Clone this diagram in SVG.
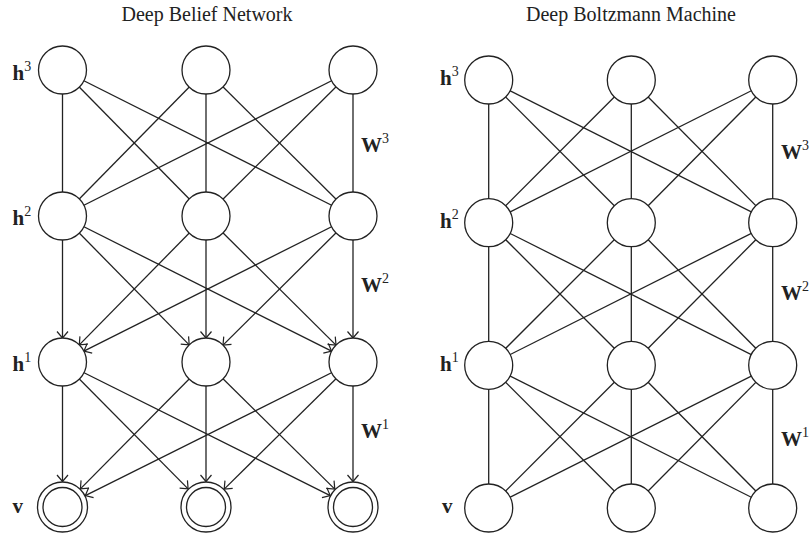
<svg xmlns="http://www.w3.org/2000/svg" width="812" height="535" viewBox="0 0 812 535">
<style>
.e{stroke:#222;stroke-width:1.3;fill:none}
.a{stroke:#222;stroke-width:1.3;fill:none;marker-end:url(#arr)}
.n{fill:#fff;stroke:#222;stroke-width:1.3}
.t{font-family:"Liberation Serif",serif;font-size:20px;fill:#222;text-anchor:middle}
.l{font-family:"Liberation Serif",serif;font-weight:bold;font-size:21px;fill:#222}
.s{font-size:14px;font-weight:normal}
</style>
<defs>
<marker id="arr" markerUnits="userSpaceOnUse" markerWidth="14" markerHeight="14" refX="12" refY="7" orient="auto" overflow="visible">
<path d="M5.5,1.5 L12,7 L5.5,12.5" fill="none" stroke="#222" stroke-width="1.2"/>
</marker>
</defs>
<rect width="812" height="535" fill="#fff"/>
<text class="t" x="207" y="21">Deep Belief Network</text>
<text class="t" x="631" y="21">Deep Boltzmann Machine</text>
<g id="connectors">
<line class="e" x1="62.5" y1="70" x2="62.5" y2="216"/>
<line class="e" x1="62.5" y1="70" x2="206" y2="216"/>
<line class="e" x1="62.5" y1="70" x2="353" y2="216"/>
<line class="e" x1="206" y1="70" x2="62.5" y2="216"/>
<line class="e" x1="206" y1="70" x2="206" y2="216"/>
<line class="e" x1="206" y1="70" x2="353" y2="216"/>
<line class="e" x1="353" y1="70" x2="62.5" y2="216"/>
<line class="e" x1="353" y1="70" x2="206" y2="216"/>
<line class="e" x1="353" y1="70" x2="353" y2="216"/>
<line class="a" x1="62.5" y1="216" x2="62.5" y2="338"/>
<line class="a" x1="62.5" y1="216" x2="189.2" y2="344.9"/>
<line class="a" x1="62.5" y1="216" x2="331.6" y2="351.2"/>
<line class="a" x1="206" y1="216" x2="79.3" y2="344.9"/>
<line class="a" x1="206" y1="216" x2="206" y2="338"/>
<line class="a" x1="206" y1="216" x2="336" y2="345.1"/>
<line class="a" x1="353" y1="216" x2="83.9" y2="351.2"/>
<line class="a" x1="353" y1="216" x2="223" y2="345.1"/>
<line class="a" x1="353" y1="216" x2="353" y2="338"/>
<line class="a" x1="62.5" y1="362" x2="62.5" y2="481.5"/>
<line class="a" x1="62.5" y1="362" x2="188.1" y2="488.9"/>
<line class="a" x1="62.5" y1="362" x2="330.2" y2="495.6"/>
<line class="a" x1="206" y1="362" x2="80.4" y2="488.9"/>
<line class="a" x1="206" y1="362" x2="206" y2="481.5"/>
<line class="a" x1="206" y1="362" x2="334.8" y2="489.1"/>
<line class="a" x1="353" y1="362" x2="85.3" y2="495.6"/>
<line class="a" x1="353" y1="362" x2="224.2" y2="489.1"/>
<line class="a" x1="353" y1="362" x2="353" y2="481.5"/>
<line class="e" x1="488.7" y1="80" x2="488.7" y2="222.7"/>
<line class="e" x1="488.7" y1="80" x2="631.3" y2="222.7"/>
<line class="e" x1="488.7" y1="80" x2="772.7" y2="222.7"/>
<line class="e" x1="631.3" y1="80" x2="488.7" y2="222.7"/>
<line class="e" x1="631.3" y1="80" x2="631.3" y2="222.7"/>
<line class="e" x1="631.3" y1="80" x2="772.7" y2="222.7"/>
<line class="e" x1="772.7" y1="80" x2="488.7" y2="222.7"/>
<line class="e" x1="772.7" y1="80" x2="631.3" y2="222.7"/>
<line class="e" x1="772.7" y1="80" x2="772.7" y2="222.7"/>
<line class="e" x1="488.7" y1="222.7" x2="488.7" y2="365.3"/>
<line class="e" x1="488.7" y1="222.7" x2="631.3" y2="365.3"/>
<line class="e" x1="488.7" y1="222.7" x2="772.7" y2="365.3"/>
<line class="e" x1="631.3" y1="222.7" x2="488.7" y2="365.3"/>
<line class="e" x1="631.3" y1="222.7" x2="631.3" y2="365.3"/>
<line class="e" x1="631.3" y1="222.7" x2="772.7" y2="365.3"/>
<line class="e" x1="772.7" y1="222.7" x2="488.7" y2="365.3"/>
<line class="e" x1="772.7" y1="222.7" x2="631.3" y2="365.3"/>
<line class="e" x1="772.7" y1="222.7" x2="772.7" y2="365.3"/>
<line class="e" x1="488.7" y1="365.3" x2="488.7" y2="508"/>
<line class="e" x1="488.7" y1="365.3" x2="631.3" y2="508"/>
<line class="e" x1="488.7" y1="365.3" x2="772.7" y2="508"/>
<line class="e" x1="631.3" y1="365.3" x2="488.7" y2="508"/>
<line class="e" x1="631.3" y1="365.3" x2="631.3" y2="508"/>
<line class="e" x1="631.3" y1="365.3" x2="772.7" y2="508"/>
<line class="e" x1="772.7" y1="365.3" x2="488.7" y2="508"/>
<line class="e" x1="772.7" y1="365.3" x2="631.3" y2="508"/>
<line class="e" x1="772.7" y1="365.3" x2="772.7" y2="508"/>
</g>
<g id="dbn-h3-1"><circle class="n" cx="62.5" cy="70" r="24"/></g>
<g id="dbn-h3-2"><circle class="n" cx="206" cy="70" r="24"/></g>
<g id="dbn-h3-3"><circle class="n" cx="353" cy="70" r="24"/></g>
<g id="dbn-h2-1"><circle class="n" cx="62.5" cy="216" r="24"/></g>
<g id="dbn-h2-2"><circle class="n" cx="206" cy="216" r="24"/></g>
<g id="dbn-h2-3"><circle class="n" cx="353" cy="216" r="24"/></g>
<g id="dbn-h1-1"><circle class="n" cx="62.5" cy="362" r="24"/></g>
<g id="dbn-h1-2"><circle class="n" cx="206" cy="362" r="24"/></g>
<g id="dbn-h1-3"><circle class="n" cx="353" cy="362" r="24"/></g>
<g id="dbn-v-1"><circle class="n" cx="62.5" cy="507" r="25"/><circle class="n" cx="62.5" cy="507" r="19.5"/></g>
<g id="dbn-v-2"><circle class="n" cx="206" cy="507" r="25"/><circle class="n" cx="206" cy="507" r="19.5"/></g>
<g id="dbn-v-3"><circle class="n" cx="353" cy="507" r="25"/><circle class="n" cx="353" cy="507" r="19.5"/></g>
<g id="dbm-h3-1"><circle class="n" cx="488.7" cy="80" r="24"/></g>
<g id="dbm-h3-2"><circle class="n" cx="631.3" cy="80" r="24"/></g>
<g id="dbm-h3-3"><circle class="n" cx="772.7" cy="80" r="24"/></g>
<g id="dbm-h2-1"><circle class="n" cx="488.7" cy="222.7" r="24"/></g>
<g id="dbm-h2-2"><circle class="n" cx="631.3" cy="222.7" r="24"/></g>
<g id="dbm-h2-3"><circle class="n" cx="772.7" cy="222.7" r="24"/></g>
<g id="dbm-h1-1"><circle class="n" cx="488.7" cy="365.3" r="24"/></g>
<g id="dbm-h1-2"><circle class="n" cx="631.3" cy="365.3" r="24"/></g>
<g id="dbm-h1-3"><circle class="n" cx="772.7" cy="365.3" r="24"/></g>
<g id="dbm-v-1"><circle class="n" cx="488.7" cy="508" r="24"/></g>
<g id="dbm-v-2"><circle class="n" cx="631.3" cy="508" r="24"/></g>
<g id="dbm-v-3"><circle class="n" cx="772.7" cy="508" r="24"/></g>
<g id="labels">
<text class="l" x="12.5" y="80">h<tspan class="s" dy="-9">3</tspan></text>
<text class="l" x="12.5" y="225">h<tspan class="s" dy="-9">2</tspan></text>
<text class="l" x="12.5" y="371">h<tspan class="s" dy="-9">1</tspan></text>
<text class="l" x="12.5" y="513">v</text>
<text class="l" x="361" y="152">W<tspan class="s" dy="-9">3</tspan></text>
<text class="l" x="361" y="292">W<tspan class="s" dy="-9">2</tspan></text>
<text class="l" x="361" y="438">W<tspan class="s" dy="-9">1</tspan></text>
<text class="l" x="440" y="85">h<tspan class="s" dy="-9">3</tspan></text>
<text class="l" x="440" y="228">h<tspan class="s" dy="-9">2</tspan></text>
<text class="l" x="440" y="371">h<tspan class="s" dy="-9">1</tspan></text>
<text class="l" x="442" y="513">v</text>
<text class="l" x="781" y="159">W<tspan class="s" dy="-9">3</tspan></text>
<text class="l" x="781" y="300">W<tspan class="s" dy="-9">2</tspan></text>
<text class="l" x="781" y="446">W<tspan class="s" dy="-9">1</tspan></text>
</g>
</svg>
